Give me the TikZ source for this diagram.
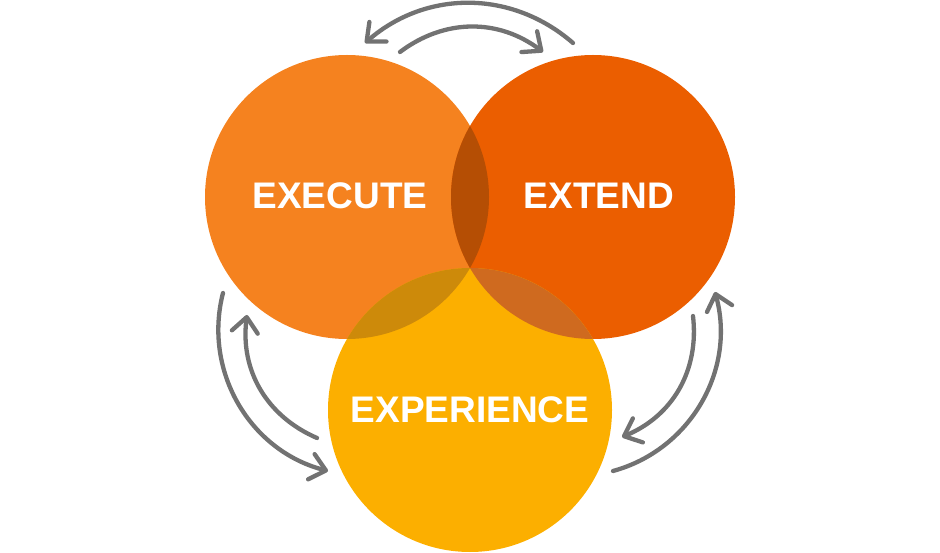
\documentclass[tikz,border=0pt]{standalone}
\usepackage{fontspec}
\setmainfont{Liberation Sans}
\usetikzlibrary{arrows.meta}
\definecolor{executeorange}{HTML}{F5821F}
\definecolor{extendorange}{HTML}{EB5E00}
\definecolor{experienceyellow}{HTML}{FCAF00}
\definecolor{execextend}{HTML}{B54E04}
\definecolor{execexper}{HTML}{CD8A0A}
\definecolor{extexper}{HTML}{CF6A1F}
\definecolor{arrowgray}{HTML}{727272}
\tikzset{
	venn/.style={circle,minimum size=284pt,inner sep=0pt},
	word/.style={text=white,font=\bfseries\fontsize{37}{37}\selectfont},
	cycle arrow/.style={draw=arrowgray,line width=4.3pt,line cap=round,
		-{Straight Barb[length=15pt,width=26pt,round]}}
}
\begin{document}
\begin{tikzpicture}[x=1pt,y=1pt]
	\useasboundingbox (0,0) rectangle (940,552);
	% Circles
	\node[venn,fill=executeorange] (execute) at (347,355) {};
	\node[venn,fill=extendorange] (extend) at (593,355) {};
	\node[venn,fill=experienceyellow] (experience) at (470,142) {};
	% Overlaps
	\begin{scope}
		\clip (execute.center) circle (142);
		\fill[execexper] (experience.center) circle (142);
	\end{scope}
	\begin{scope}
		\clip (extend.center) circle (142);
		\fill[extexper] (experience.center) circle (142);
	\end{scope}
	\begin{scope}
		\clip (execute.center) circle (142);
		\fill[execextend] (extend.center) circle (142);
	\end{scope}
	%Labels
	\node[word] (execute label) at (340,356) {EXECUTE};
	\node[word] (extend label) at (599,356) {EXTEND};
	\node[word] (experience label) at (470,142) {EXPERIENCE};
	%Arrows
	\coordinate (top out a) at (573,509);
	\coordinate (top out b) at (365,509);
	\coordinate (top in a) at (400,500);
	\coordinate (top in b) at (543,500);
	\coordinate (left out a) at (223,259);
	\coordinate (left out b) at (328,81);
	\coordinate (left in a) at (317,114);
	\coordinate (left in b) at (247,237);
	\coordinate (right out a) at (613,81);
	\coordinate (right out b) at (715,260);
	\coordinate (right in a) at (693,236);
	\coordinate (right in b) at (622,115);
	\draw[cycle arrow] (top out a) to[bend right=41] (top out b);
	\draw[cycle arrow] (top in a) to[bend left=37] (top in b);
	\draw[cycle arrow] (left out a) to[bend right=45] (left out b);
	\draw[cycle arrow] (left in a) to[bend left=37] (left in b);
	\draw[cycle arrow] (right out a) to[bend right=45] (right out b);
	\draw[cycle arrow] (right in a) to[bend left=37] (right in b);
\end{tikzpicture}
\end{document}
